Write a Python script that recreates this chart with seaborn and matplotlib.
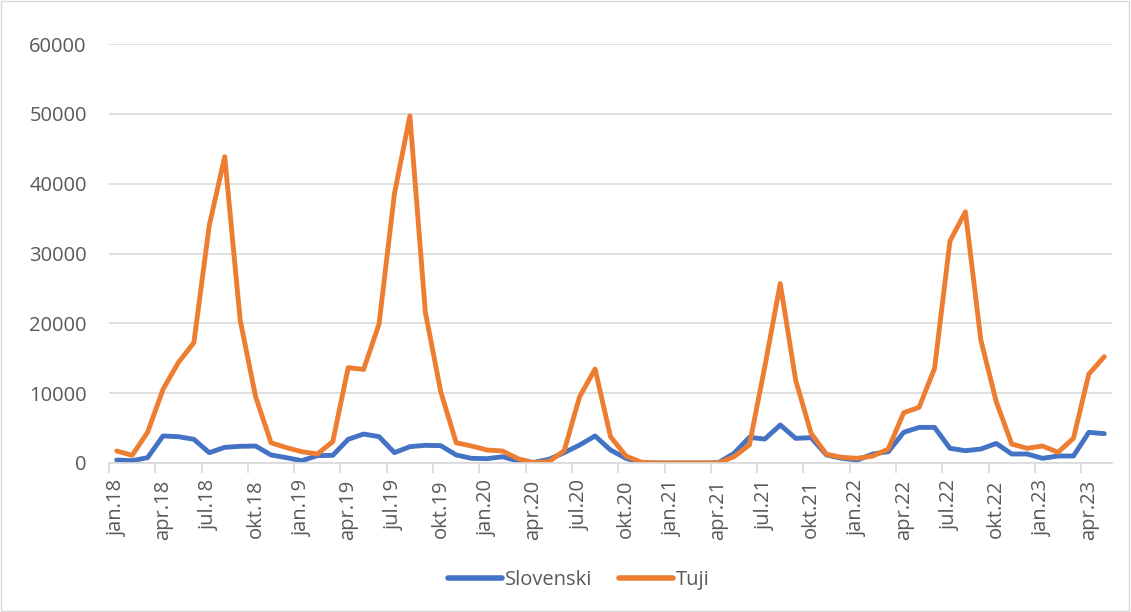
import pandas as pd
import matplotlib.pyplot as plt
import seaborn as sns
from matplotlib.patches import Rectangle

# Monthly values, jan.18 .. maj.23
years = ["18", "19", "20", "21", "22", "23"]
month_names = ["jan", "feb", "mar", "apr", "maj", "jun",
               "jul", "avg", "sep", "okt", "nov", "dec"]

slovenski = [430, 330, 760, 3870, 3770, 3390, 1480, 2240, 2390, 2430, 1150, 760,
             330, 1050, 1100, 3390, 4150, 3770, 1480, 2340, 2530, 2480, 1150, 670,
             620, 900, 290, 80, 520, 1480, 2580, 3870, 1860, 670, 50, 0,
             0, 0, 0, 50, 1380, 3670, 3430, 5440, 3530, 3630, 1150, 670,
             430, 1290, 1620, 4390, 5100, 5100, 2100, 1760, 2000, 2800, 1290, 1290,
             670, 1000, 1000, 4390, 4200]

tuji = [1720, 1100, 4390, 10550, 14400, 17230, 34060, 43860, 20480, 9500, 2900, 2200,
        1620, 1290, 3050, 13650, 13400, 19900, 38600, 49700, 21600, 10200, 2900, 2430,
        1860, 1720, 620, 50, 190, 1760, 9500, 13460, 3770, 1000, 100, 0,
        0, 0, 0, 0, 900, 2580, 13800, 25700, 11880, 4250, 1240, 810,
        670, 1000, 2000, 7200, 7970, 13550, 31800, 35970, 17600, 8780, 2720, 2100,
        2430, 1530, 3530, 12740, 15220]

labels = [f"{m}.{y}" for y in years for m in month_names][:len(tuji)]

BLUE = "#4472C4"
ORANGE = "#ED7D31"
GREY = "#595959"


def main():
    sns.set_theme(style="white")
    plt.rcParams["font.family"] = ["Open Sans", "DejaVu Sans"]

    n = len(tuji)
    df = pd.DataFrame({
        "idx": list(range(n)) * 2,
        "value": slovenski + tuji,
        "serija": ["Slovenski"] * n + ["Tuji"] * n,
    })

    fig = plt.figure(figsize=(11.31, 6.12), dpi=100)
    ax = fig.add_axes([109 / 1131, 1 - 463 / 612, (1112 - 109) / 1131, (463 - 44) / 612])

    sns.lineplot(data=df, x="idx", y="value", hue="serija",
                 palette=[BLUE, ORANGE], linewidth=3.5, ax=ax, legend=False)

    ax.set_xlim(-0.5, n - 0.5)
    ax.set_ylim(0, 60000)
    ax.set_yticks(range(0, 60001, 10000))
    ax.grid(axis="y", color="#D9D9D9", linewidth=1.2)
    ax.set_axisbelow(True)

    ax.set_xticks(range(0, n, 3))
    ax.set_xticklabels(labels[::3], rotation=90)
    ax.set_xticks([i - 0.5 for i in range(0, n, 3)], minor=True)
    ax.tick_params(axis="x", which="major", length=0, pad=12, labelsize=14.5, labelcolor=GREY)
    ax.tick_params(axis="x", which="minor", length=7, width=1.2, color="#D9D9D9", bottom=True)
    ax.tick_params(axis="y", length=0, pad=16, labelsize=14.5, labelcolor=GREY)

    for side in ["top", "right", "left"]:
        ax.spines[side].set_visible(False)
    ax.spines["bottom"].set_color("#D9D9D9")
    ax.spines["bottom"].set_linewidth(1.2)

    ax.set_xlabel("")
    ax.set_ylabel("")

    handles = [plt.Line2D([], [], color=BLUE, linewidth=4, solid_capstyle="round"),
               plt.Line2D([], [], color=ORANGE, linewidth=4, solid_capstyle="round")]
    leg = fig.legend(handles, ["Slovenski", "Tuji"], loc="center",
                     bbox_to_anchor=(0.512, 1 - 580 / 612), ncol=2, frameon=False,
                     fontsize=14.5, handlelength=2.7, columnspacing=1.3, handletextpad=0.15)
    for t in leg.get_texts():
        t.set_color(GREY)

    fig.patches.append(Rectangle((0.001, 0.001), 0.997, 0.997, transform=fig.transFigure,
                                 fill=False, edgecolor="#D9D9D9", linewidth=1))

    fig.savefig("out.png", dpi=100)


if __name__ == "__main__":
    main()
